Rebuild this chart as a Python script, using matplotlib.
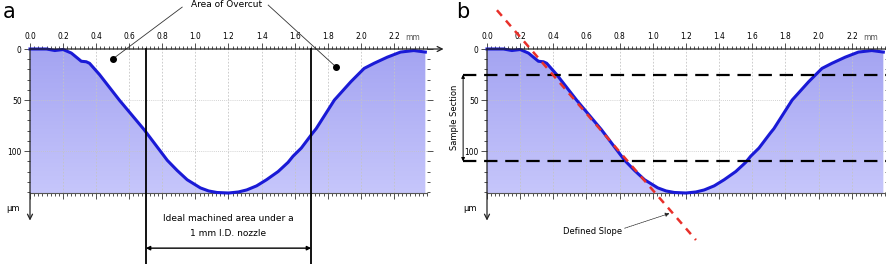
import numpy as np
import matplotlib.pyplot as plt
from matplotlib.colors import LinearSegmentedColormap
from matplotlib.ticker import MultipleLocator

# surface profile (mm across, depth in um)
x_mm = [0.00, 0.10, 0.15, 0.20, 0.25, 0.31, 0.34, 0.36, 0.42, 0.54, 0.69,
        0.83, 0.89, 0.95, 1.03, 1.08, 1.13, 1.20, 1.26, 1.31, 1.37, 1.43,
        1.50, 1.56, 1.59, 1.64, 1.71, 1.73, 1.84, 1.94, 2.02, 2.08, 2.16,
        2.24, 2.32, 2.39]
depth_um = [0, 0, 1.5, 0.5, 4, 12, 12.5, 14, 25, 50, 79,
            109, 119, 128, 136, 139, 140.5, 141, 140, 138, 134, 128,
            120, 111, 105, 97, 82, 78, 50, 32, 19, 14, 8,
            3, 1.5, 3]

xticks = [0.0, 0.2, 0.4, 0.6, 0.8, 1.0, 1.2, 1.4, 1.6, 1.8, 2.0, 2.2]
yticks = [0, 50, 100]
nozzle_edges = [0.7, 1.7]          # ideal machined area, panel a
section_levels = [25, 110]         # sample section, panel b
slope_x = [0.06, 1.26]             # defined slope line, panel b
slope_y = [-38, 187]

W, H = 887, 264
XMAX, YMAX = 2.4, 141
line_col = '#1a1ad6'
fill_cmap = LinearSegmentedColormap.from_list('prof', ['#a4a4f2', '#c6c6fb'])

fig = plt.figure(figsize=(W / 100, H / 100), dpi=100)


def make_panel(left_px, right_px, letter, letter_x):
    ax = fig.add_axes([left_px / W, (H - 193) / H, (right_px - left_px) / W, 144 / H])
    ax.set_xlim(0, XMAX)
    ax.set_ylim(YMAX, 0)

    # gradient fill under the profile
    poly = ax.fill_between(x_mm, depth_um, YMAX, color='none', lw=0)
    grad = np.linspace(0, 1, 100).reshape(-1, 1)
    im = ax.imshow(grad, extent=[0, XMAX, YMAX, 0], aspect='auto',
                   cmap=fill_cmap, zorder=1)
    im.set_clip_path(poly.get_paths()[0], transform=ax.transData)

    for xv in xticks[1:]:
        ax.axvline(xv, color='#c4c4c4', lw=0.6, ls=(0, (2, 2)), zorder=1.5)
    for yv in yticks[1:]:
        ax.axhline(yv, color='#c4c4c4', lw=0.6, ls=(0, (1, 1.5)), zorder=1.5)

    ax.plot(x_mm, depth_um, color=line_col, lw=2.2, zorder=3, clip_on=False)

    for s in ['top', 'left', 'right']:
        ax.spines[s].set_visible(False)
    ax.spines['bottom'].set_color('#555555')
    ax.spines['bottom'].set_linewidth(0.8)

    ax.xaxis.tick_top()
    ax.set_xticks(xticks)
    ax.set_xticklabels(['%.1f' % v for v in xticks], fontstretch='condensed')
    ax.xaxis.set_minor_locator(MultipleLocator(0.025))
    ax.tick_params(axis='x', which='both', top=True, bottom=True,
                   labeltop=True, labelbottom=False, direction='out',
                   labelsize=6, pad=2, width=0.6, color='#333333')
    ax.tick_params(axis='x', which='major', length=4)
    ax.tick_params(axis='x', which='minor', length=2)
    ax.set_yticks(yticks)
    ax.set_yticklabels([str(v) for v in yticks], fontstretch='condensed')
    ax.yaxis.set_minor_locator(MultipleLocator(10))
    ax.tick_params(axis='y', which='both', left=True, right=True,
                   labelleft=True, labelright=False, direction='out',
                   labelsize=6, pad=2, width=0.6, color='#333333')
    ax.tick_params(axis='y', which='major', length=4)
    ax.tick_params(axis='y', which='minor', length=2)

    ax.text(2.27, -11, 'mm', fontsize=5.5, color='#555555', ha='left', va='center')

    # axis arrows
    ax.annotate('', xy=(2.5, 0), xytext=(0, 0), annotation_clip=False,
                arrowprops=dict(arrowstyle='->', lw=0.9, color='#222222',
                                shrinkA=0, shrinkB=0, mutation_scale=9))
    ax.annotate('', xy=(0, 168), xytext=(0, 0), annotation_clip=False,
                arrowprops=dict(arrowstyle='->', lw=0.9, color='#222222',
                                shrinkA=0, shrinkB=0, mutation_scale=9))
    ax.text(-0.06, 156, 'µm', fontsize=6, ha='right', va='center')

    fig.text(letter_x / W, 1 - 12 / H, letter, fontsize=15, ha='center', va='center')
    return ax


ax_a = make_panel(30, 427, 'a', 9)
ax_b = make_panel(487, 885, 'b', 463)

# ---- panel a annotations
for xv in nozzle_edges:
    ax_a.plot([xv, xv], [0, 212], color='black', lw=1.3, clip_on=False, zorder=4)
ax_a.annotate('', xy=(nozzle_edges[1], 195), xytext=(nozzle_edges[0], 195),
              annotation_clip=False,
              arrowprops=dict(arrowstyle='<|-|>', lw=1.0, color='black',
                              shrinkA=0, shrinkB=0, mutation_scale=6))
ax_a.text(1.196, 166, 'Ideal machined area under a', fontsize=6.5,
          ha='center', va='center')
ax_a.text(1.196, 180.5, '1 mm I.D. nozzle', fontsize=6.5, ha='center', va='center')

ax_a.text(1.19, -44, 'Area of Overcut', fontsize=6.5, ha='center', va='center')
ax_a.plot([0.92, 0.50], [-41, 9.8], color='#333333', lw=0.6, clip_on=False)
ax_a.plot([1.44, 1.85], [-43, 17.6], color='#333333', lw=0.6, clip_on=False)
ax_a.plot([0.50, 1.85], [9.8, 17.6], 'o', color='black', ms=4, clip_on=False, zorder=5)

# ---- panel b annotations
for yv in section_levels:
    ax_b.plot([-0.144, 2.45], [yv, yv], color='black', lw=1.6,
              ls=(0, (6, 3.5)), clip_on=False, zorder=4)
ax_b.annotate('', xy=(-0.144, section_levels[0]), xytext=(-0.144, section_levels[1]),
              annotation_clip=False,
              arrowprops=dict(arrowstyle='<|-|>', lw=0.7, color='black',
                              shrinkA=0, shrinkB=0, mutation_scale=5))
ax_b.text(-0.195, 67, 'Sample Section', fontsize=6, rotation=90,
          ha='center', va='center')

ax_b.plot(slope_x, slope_y, color='#e8302a', lw=1.8, ls=(0, (3, 2.5)),
          clip_on=False, zorder=5)
ax_b.text(0.637, 179, 'Defined Slope', fontsize=6, ha='center', va='center')
ax_b.annotate('', xy=(1.10, 161), xytext=(0.83, 175.5), annotation_clip=False,
              arrowprops=dict(arrowstyle='-|>', lw=0.5, color='#222222',
                              ls=(0, (2, 1)), shrinkA=0, shrinkB=0,
                              mutation_scale=6))

fig.savefig('out.png', dpi=100)
